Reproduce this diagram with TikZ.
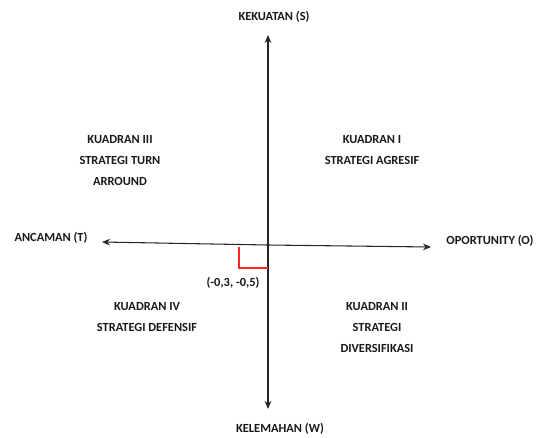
\documentclass[tikz,border=0pt]{standalone}
\usepackage{fontspec}
\setmainfont{Carlito}
\usetikzlibrary{arrows.meta,positioning}

\begin{document}
\begin{tikzpicture}[
    x=0.75pt, y=-0.75pt,
    axis/.style={draw, black!85, line width=0.8pt, -{Stealth[length=6pt, width=5pt]}},
    label/.style={font=\fontsize{9.3}{15.75}\selectfont\bfseries, text=black!90, align=center, inner sep=0pt},
    marker/.style={draw, red!85, line width=0.8pt}
]
\useasboundingbox (0,0) rectangle (539,437);

% Axis end points
\coordinate (O) at (268,245);
\coordinate (top) at (268,35);
\coordinate (bottom) at (268,409);
\coordinate (left) at (102,242);
\coordinate (right) at (431,247);

% Axis labels
\node[label] (S) at (274,17) {KEKUATAN (S)};
\node[label] (W) at (280,429) {KELEMAHAN (W)};
\node[label] (T) at (51,238) {ANCAMAN (T)};
\node[label] (Opp) at (490,241) {OPORTUNITY (O)};

% Quadrant labels
\node[label] (Q3) at (120,161) {KUADRAN III\\STRATEGI TURN\\ARROUND};
\node[label] (Q1) at (372,150) {KUADRAN I\\STRATEGI AGRESIF};
\node[label] (Q4) at (147,317) {KUADRAN IV\\STRATEGI DEFENSIF};
\node[label] (Q2) at (377,328) {KUADRAN II\\STRATEGI\\DIVERSIFIKASI};

% Draw axes
\draw[axis] (O) -- (top);
\draw[axis] (O) -- (bottom);
\draw[axis] (O) -- (left);
\draw[axis] (O) -- (right);

% Position marker
\coordinate (m1) at (239,247);
\coordinate (m2) at (239,268);
\coordinate (m3) at (268,268);
\draw[marker] (m1) -- (m2) -- (m3);
\node[label] (pos) at (233,283) {(-0,3, -0,5)};

\end{tikzpicture}
\end{document}
